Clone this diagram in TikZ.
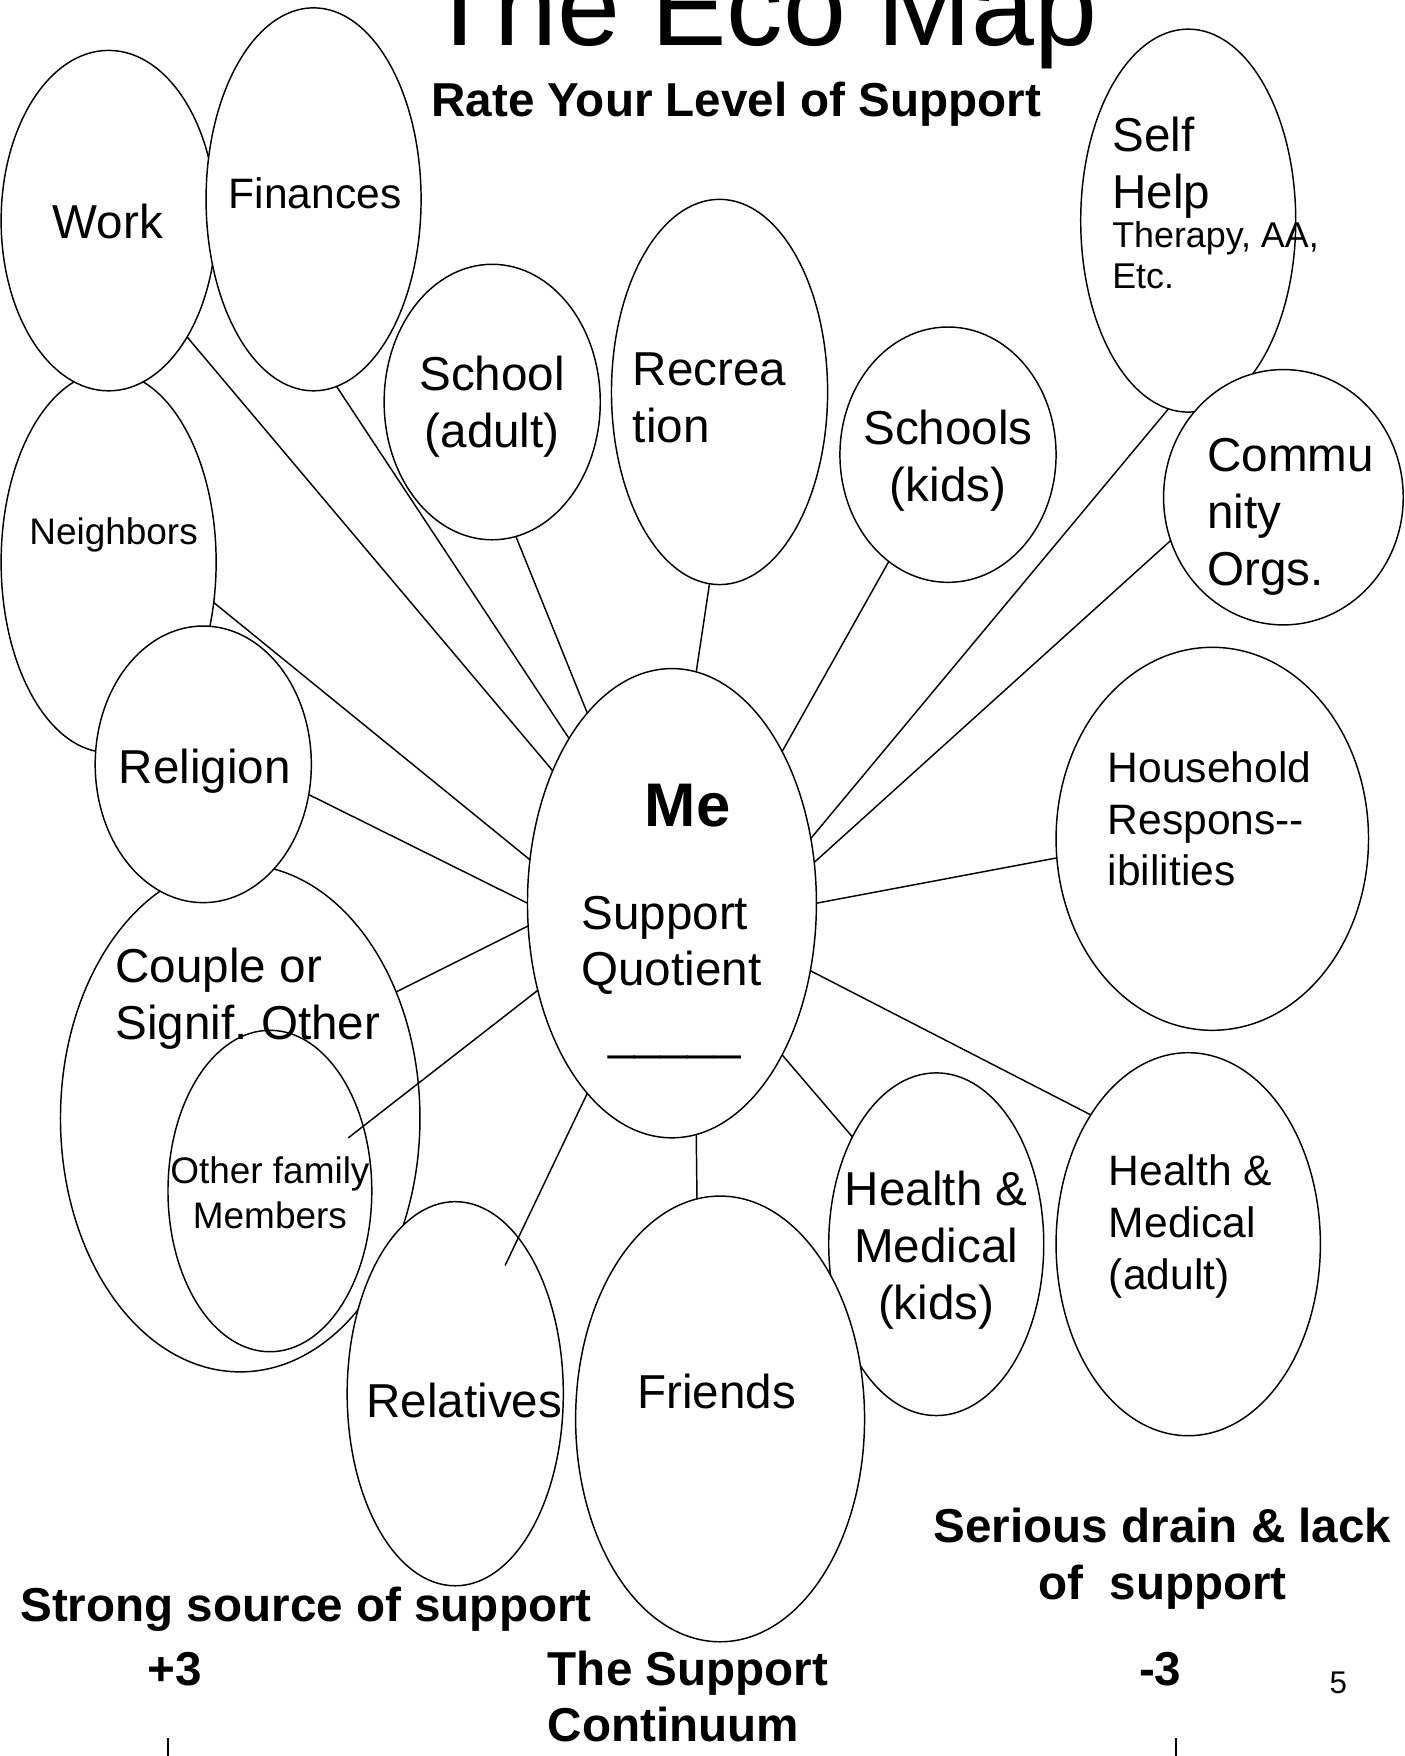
\documentclass[tikz,border=0pt]{standalone}
\usepackage{fontspec}
\setmainfont{Liberation Sans}
\usetikzlibrary{shapes.geometric}
\frenchspacing

\tikzset{
  bubble/.style={draw, ellipse, fill=white, inner sep=0pt, outer sep=0pt, line width=1.3pt},
  link/.style={line width=1.3pt},
  lbl/.style={inner sep=0pt, anchor=base west, align=left, font=\fontsize{42.5}{51}\selectfont},
  clbl/.style={lbl, anchor=base, align=center},
  midtxt/.style={font=\fontsize{38}{46}\selectfont},
  smalltxt/.style={font=\fontsize{33}{40}\selectfont},
  boldtxt/.style={font=\fontsize{42.5}{51}\selectfont\bfseries}
}

\begin{document}
\begin{tikzpicture}[x=1pt, y=-1pt]
  \useasboundingbox (0,0) rectangle (1254,1568);

  \node[bubble, minimum width=192pt, minimum height=340pt] (neighbors) at (97,502) {};
  \node[bubble, minimum width=192pt, minimum height=304pt] (work) at (97,197) {};
  \node[bubble, minimum width=192pt, minimum height=342pt] (finances) at (280,178) {};
  \node[bubble, minimum width=193pt, minimum height=246pt] (school) at (439.5,359) {};
  \node[bubble, minimum width=193pt, minimum height=344pt] (recreation) at (642.5,350) {};
  \node[bubble, minimum width=193pt, minimum height=228pt] (schoolskids) at (846.5,406) {};
  \node[bubble, minimum width=192pt, minimum height=342pt] (selfhelp) at (1061,197) {};
  \node[bubble, minimum width=214pt, minimum height=228pt] (community) at (1146,444) {};
  \node[bubble, minimum width=279pt, minimum height=342pt] (household) at (1082.5,749) {};
  \node[bubble, minimum width=258pt, minimum height=419pt] (me) at (600,806.5) {};
  \node[bubble, minimum width=321pt, minimum height=453pt] (couple) at (214.5,998.5) {};
  \node[bubble, minimum width=193pt, minimum height=247pt] (religion) at (181.5,682.5) {};
  \node[bubble, minimum width=182pt, minimum height=287pt] (otherfam) at (241,1063.5) {};
  \node[bubble, minimum width=193pt, minimum height=343pt] (relatives) at (406.5,1244.5) {};
  \node[bubble, minimum width=192pt, minimum height=306pt] (healthkids) at (836,1111) {};
  \node[bubble, minimum width=258pt, minimum height=398pt] (friends) at (643,1267) {};
  \node[bubble, minimum width=236pt, minimum height=342pt] (healthadult) at (1061,1111) {};

  \coordinate (othend) at (311,1016);
  \coordinate (relend) at (451,1130);
  \draw[link] (me.132.9) -- (work.-56.9);
  \draw[link] (me.122.5) -- (finances.-83);
  \draw[link] (me.114.1) -- (school.-80);
  \draw[link] (me.84) -- (recreation.-93.3);
  \draw[link] (me.54.1) -- (schoolskids.-119.1);
  \draw[link] (me.25.4) -- (selfhelp.-96.6);
  \draw[link] (me.16.4) -- (community.-159.5);
  \draw[link] (me.163.9) -- (neighbors.-21.6);
  \draw[link] (me.180) -- (religion.-16.6);
  \draw[link] (me.-171.6) -- (couple.39.6);
  \draw[link] (me.213.5) -- (othend);
  \draw[link] (me.246.4) -- (relend);
  \draw[link] (me.276) -- (friends.96.1);
  \draw[link] (me.-54.3) -- (healthkids.128.7);
  \draw[link] (me.-26.2) -- (healthadult.127);
  \draw[link] (me.0) -- (household.187.8);

  \node[clbl, font=\fontsize{101}{110}\selectfont] (title) at (680,41) {The Eco Map};
  \node[clbl, boldtxt] (rate) at (657.5,104) {Rate Your Level of Support};

  \node[lbl] (worktxt) at (47,213) {Work};
  \node[lbl, midtxt] (fintxt) at (204,186) {Finances};
  \node[lbl, smalltxt] (neightxt) at (26,486) {Neighbors};
  \node[clbl] (schooltxt) at (439.5,400) {School\\(adult)};
  \node[lbl] (rectxt) at (565,395) {Recrea\\tion};
  \node[clbl] (kidstxt) at (846.5,448) {Schools\\(kids)};
  \node[lbl] (selftxt) at (993,186) {Self\\Help};
  \node[lbl, font=\fontsize{32}{37}\selectfont] (therapytxt) at (993,258) {Therapy, AA,\\Etc.};
  \node[lbl] (commtxt) at (1078,523) {Commu\\nity\\Orgs.};
  \node[lbl] (reltxt) at (106,700) {Religion};
  \node[clbl, font=\fontsize{55}{60}\selectfont\bfseries] (metxt) at (614,738) {Me};
  \node[lbl, font=\fontsize{42.5}{50}\selectfont] (sqtxt) at (519,880) {Support\\Quotient};
  \node[lbl] (blanktxt) at (543,937) {\_\_\_\_\_};
  \node[lbl, midtxt] (housetxt) at (989,791) {Household\\Respons-{}-\\ibilities};
  \node[lbl] (coupletxt) at (103,928) {Couple or\\Signif. Other};
  \node[clbl, smalltxt] (othtxt) at (241,1097) {Other family\\Members};
  \node[lbl] (relativestxt) at (327,1266) {Relatives};
  \node[lbl] (friendstxt) at (569,1258) {Friends};
  \node[clbl] (hkidstxt) at (836,1178) {Health \&\\Medical\\(kids)};
  \node[lbl, midtxt] (hadulttxt) at (990,1151) {Health \&\\Medical\\(adult)};

  \node[lbl, boldtxt] (strongtxt) at (18,1448) {Strong source of support};
  \node[clbl, boldtxt] (plustxt) at (156,1505) {+3};
  \node[lbl, font=\fontsize{42.5}{50}\selectfont\bfseries] (conttxt) at (489,1555) {The Support\\Continuum};
  \node[clbl, boldtxt] (minustxt) at (1036,1505) {-3};
  \node[clbl, boldtxt] (draintxt) at (1038,1428) {Serious drain \& lack\\of\ \ support};
  \node[clbl, font=\fontsize{28}{32}\selectfont] (pagetxt) at (1195,1512) {5};

  \coordinate (plustop) at (150,1552);
  \coordinate (plusbot) at (150,1570);
  \coordinate (minustop) at (1050,1552);
  \coordinate (minusbot) at (1050,1570);
  \draw[link] (plustop) -- (plusbot);
  \draw[link] (minustop) -- (minusbot);
\end{tikzpicture}
\end{document}
